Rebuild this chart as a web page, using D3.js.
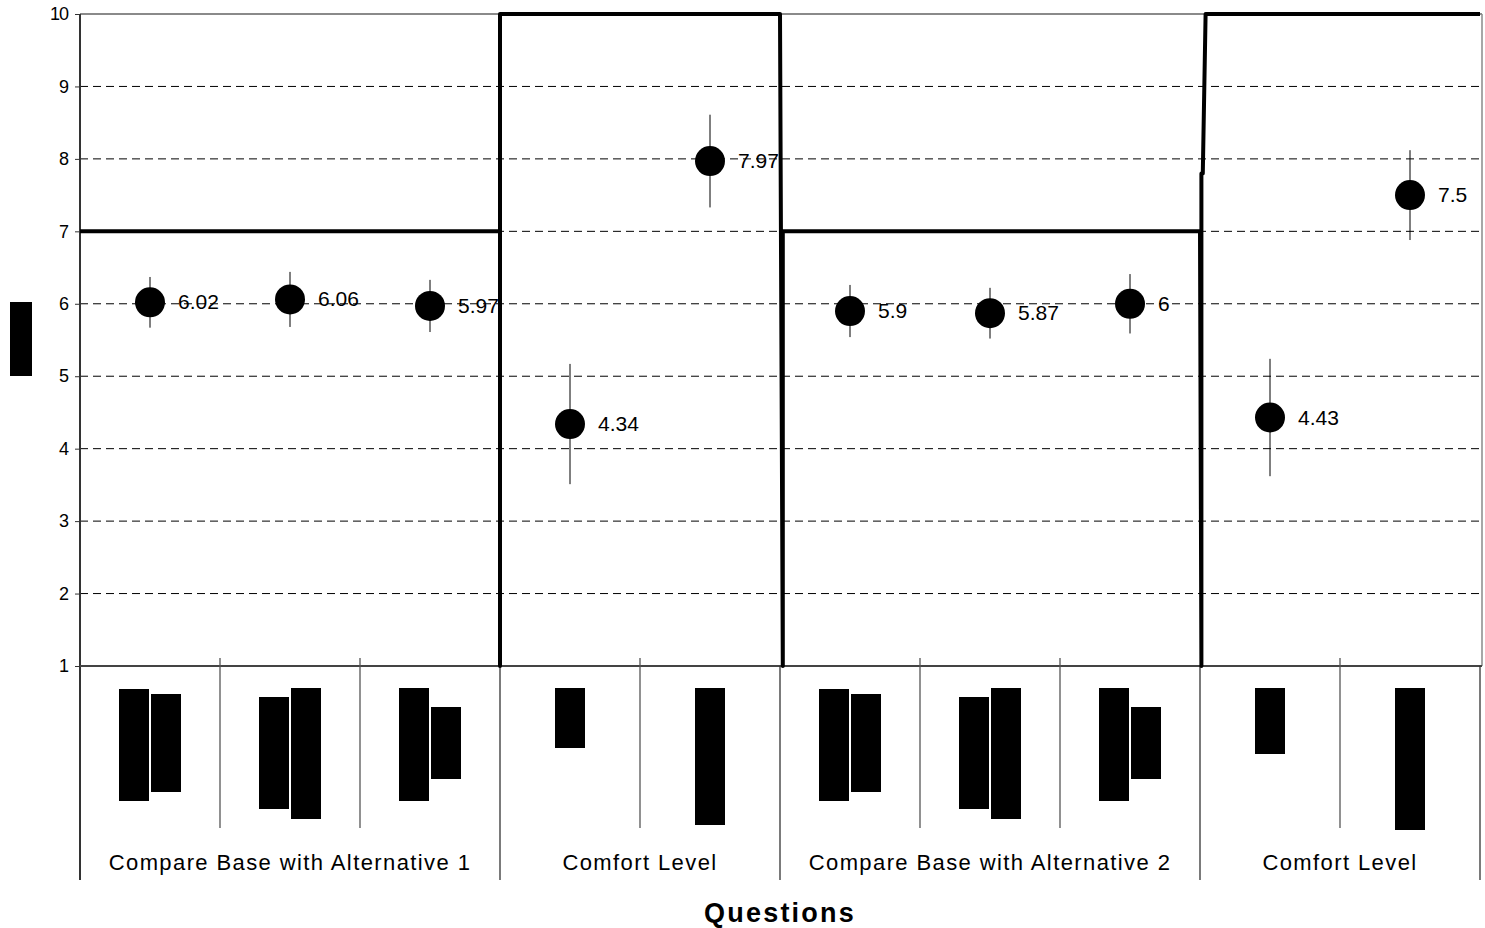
<!DOCTYPE html>
<html>
<head>
<meta charset="utf-8">
<script src="https://cdn.jsdelivr.net/npm/d3@7"></script>
<style>
  body { margin: 0; background: #fff; }
  svg { display: block; font-family: "Liberation Sans", Arial, sans-serif; }
</style>
</head>
<body>
<div id="chart"></div>
<script>
// question means with error bars (one per category slot)
const means = [6.02, 6.06, 5.97, 4.34, 7.97, 5.9, 5.87, 6, 4.43, 7.5];
const errors = [0.35, 0.38, 0.36, 0.83, 0.64, 0.36, 0.35, 0.41, 0.81, 0.62];

// question groups: name and number of slots
const groups = ["Compare Base with Alternative 1", "Comfort Level", "Compare Base with Alternative 2", "Comfort Level"];
const groupSizes = [3, 2, 3, 2];

// threshold step line, x in slot units, y in scale units
const threshX = [0, 3, 3, 3, 5, 5.02, 5.02, 8, 8.01, 8.01, 8.02, 8.04, 10];
const threshY = [7, 7, 1, 10, 10, 1, 7, 7, 1, 7.8, 7.8, 10, 10];

// redacted category labels: [top, bottom] extent of each line, below the axis
const catLabelBars = [
  [[23, 135], [28, 126]],
  [[31, 143], [22, 153]],
  [[22, 135], [41, 113]],
  [[22, 82]],
  [[22, 159]],
  [[23, 135], [28, 126]],
  [[31, 143], [22, 153]],
  [[22, 135], [41, 113]],
  [[22, 88]],
  [[22, 164]]
];

const yTicks = [1, 2, 3, 4, 5, 6, 7, 8, 9, 10];

const width = 1485, height = 928;
const margin = { top: 14, right: 4, bottom: 262, left: 80 };
const plotW = 1400, plotH = height - margin.top - margin.bottom;

const svg = d3.select("#chart").append("svg")
  .attr("width", width).attr("height", height);

const x = d3.scaleLinear().domain([0, means.length]).range([margin.left, margin.left + plotW]);
const y = d3.scaleLinear().domain([1, 10]).range([margin.top + plotH, margin.top]);
const base = y(1);

// gridlines
svg.append("g").selectAll("line")
  .data(yTicks.filter(d => d > 1 && d < 10))
  .join("line")
  .attr("x1", x(0)).attr("x2", x(10))
  .attr("y1", d => y(d)).attr("y2", d => y(d))
  .attr("stroke", "#000").attr("stroke-width", 1)
  .attr("stroke-dasharray", "8,5");

// plot frame top and right
svg.append("line").attr("x1", x(0)).attr("x2", x(10) + 2).attr("y1", y(10)).attr("y2", y(10))
  .attr("stroke", "#8a8a8a").attr("stroke-width", 2);
svg.append("line").attr("x1", x(10) + 2).attr("x2", x(10) + 2).attr("y1", y(10)).attr("y2", base)
  .attr("stroke", "#8a8a8a").attr("stroke-width", 1.5);

// y axis
const yAxis = d3.axisLeft(y).tickValues(yTicks).tickSize(5).tickPadding(7);
const yg = svg.append("g").attr("transform", `translate(${x(0)},0)`).call(yAxis);
yg.select(".domain").remove();
yg.selectAll("text").attr("font-size", 18).attr("letter-spacing", -1).attr("fill", "#000")
  .attr("font-family", "Liberation Sans, Arial, sans-serif");
yg.selectAll(".tick line").attr("stroke", "#333");
svg.append("line").attr("x1", x(0)).attr("x2", x(0)).attr("y1", y(10)).attr("y2", 880)
  .attr("stroke", "#333").attr("stroke-width", 2);

// x axis baseline
svg.append("line").attr("x1", x(0)).attr("x2", x(10) + 2).attr("y1", base).attr("y2", base)
  .attr("stroke", "#444").attr("stroke-width", 2);

// slot separators below the axis
let bounds = [0];
groupSizes.forEach(n => bounds.push(bounds[bounds.length - 1] + n));
const groupEdges = new Set(bounds);
svg.append("g").selectAll("line")
  .data(d3.range(1, means.length + 1))
  .join("line")
  .attr("x1", d => x(d)).attr("x2", d => x(d))
  .attr("y1", d => groupEdges.has(d) ? base : base - 8)
  .attr("y2", d => groupEdges.has(d) ? 880 : 828)
  .attr("stroke", d => groupEdges.has(d) ? "#333" : "#555")
  .attr("stroke-width", 1.3);

// redacted category labels
catLabelBars.forEach((lines, i) => {
  const n = lines.length;
  const c = x(i + 0.5);
  svg.append("g").selectAll("rect")
    .data(lines)
    .join("rect")
    .attr("x", (d, j) => c - (n * 30 + (n - 1) * 2) / 2 + j * 32)
    .attr("y", d => base + d[0])
    .attr("width", 30)
    .attr("height", d => d[1] - d[0])
    .attr("fill", "#000");
});

// group labels
svg.append("g").selectAll("text")
  .data(groups)
  .join("text")
  .attr("x", (d, i) => x((bounds[i] + bounds[i + 1]) / 2))
  .attr("y", 870)
  .attr("text-anchor", "middle")
  .attr("font-size", 22)
  .attr("letter-spacing", 1.4)
  .text(d => d);

// axis title
svg.append("text").attr("x", x(5)).attr("y", 922).attr("text-anchor", "middle")
  .attr("font-size", 27).attr("font-weight", "bold").attr("letter-spacing", 2.2).text("Questions");

// redacted y title
svg.append("rect").attr("x", 10).attr("y", 302).attr("width", 22).attr("height", 74).attr("fill", "#000");

// threshold step line
const thresh = threshX.map((d, i) => [x(d), y(threshY[i])]);
svg.append("path").datum(thresh)
  .attr("d", d3.line())
  .attr("fill", "none").attr("stroke", "#000").attr("stroke-width", 4)
  .attr("stroke-linejoin", "round");

// error bars
svg.append("g").selectAll("line")
  .data(means)
  .join("line")
  .attr("x1", (d, i) => x(i + 0.5)).attr("x2", (d, i) => x(i + 0.5))
  .attr("y1", (d, i) => y(d + errors[i])).attr("y2", (d, i) => y(d - errors[i]))
  .attr("stroke", "#000").attr("stroke-width", 1);

// points
svg.append("g").selectAll("circle")
  .data(means)
  .join("circle")
  .attr("cx", (d, i) => x(i + 0.5)).attr("cy", d => y(d))
  .attr("r", 15).attr("fill", "#000");

// value labels
svg.append("g").selectAll("text")
  .data(means)
  .join("text")
  .attr("x", (d, i) => x(i + 0.5) + 28).attr("y", d => y(d) + 7)
  .attr("font-size", 21)
  .text(d => d);
</script>
</body>
</html>
